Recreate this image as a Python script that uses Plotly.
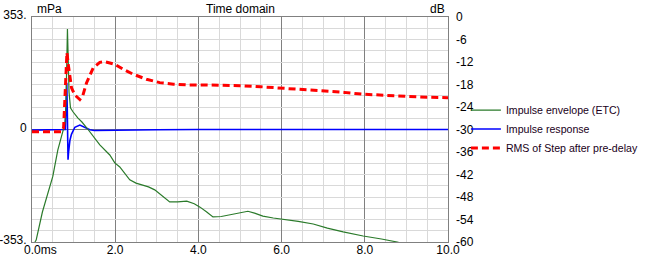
import plotly.graph_objects as go

# ---- data ----
t_etc = [0.07, 0.10, 0.25, 0.40, 0.50, 0.62, 0.74, 0.79, 0.815, 0.835, 0.852, 0.87, 0.89, 0.925,
         0.98, 1.10, 1.20, 1.32, 1.44, 1.63, 1.87, 1.99, 2.11, 2.35, 2.50, 2.66, 2.80, 2.95, 3.10,
         3.31, 3.50, 3.72, 3.90, 4.04, 4.20, 4.35, 4.55, 4.83, 5.00, 5.19, 5.35, 5.55, 5.80, 6.01,
         6.40, 6.76, 7.10, 7.48, 7.96, 8.40, 8.78, 9.00]
etc_db = [-60.0, -59.5, -52.0, -46.0, -42.5, -35.5, -30.6, -28.5, -24.0, -14.0, -3.2, -11.0, -20.0, -24.2,
          -25.2, -26.9, -28.0, -29.6, -31.4, -34.1, -36.8, -38.9, -40.0, -43.4, -44.3, -44.8, -45.3, -46.1, -47.5,
          -49.3, -49.3, -49.1, -49.8, -50.7, -52.0, -53.3, -53.2, -52.5, -52.2, -51.8, -52.3, -53.1, -53.6, -53.9,
          -54.5, -55.2, -56.3, -57.3, -58.4, -59.2, -60.0, -60.8]

t_ir = [0.0, 0.75, 0.80, 0.825, 0.835, 0.848, 0.858, 0.866, 0.88, 0.91, 0.948, 1.03, 1.15, 1.27,
        1.39, 1.50, 2.00, 3.00, 4.00, 10.0]
ir_mpa = [-2.0, -2.0, 0.0, 100.0, 147.0, 60.0, -60.0, -95.0, -70.0, -35.0, -15.0, 7.0, 14.0, 6.0,
          -1.0, -3.0, -3.0, -1.0, 0.0, 0.0]

t_rms = [0.0, 0.72, 0.76, 0.80, 0.84, 0.87, 0.95, 1.03, 1.15, 1.22, 1.31, 1.47, 1.63, 1.75,
         1.99, 2.20, 2.42, 2.75, 3.07, 3.40, 3.72, 4.10, 4.52, 5.00, 5.50, 6.01, 6.50, 7.00,
         7.50, 7.96, 8.50, 9.02, 9.50, 10.0]
rms_db = [-30.6, -30.6, -29.5, -20.0, -9.5, -12.5, -18.9, -20.8, -22.0, -21.0, -17.6, -13.6, -12.1, -11.9,
          -12.6, -14.0, -15.2, -16.6, -17.5, -17.9, -18.1, -18.1, -18.1, -18.3, -18.6, -19.0, -19.3, -19.6,
          -20.1, -20.6, -20.9, -21.2, -21.4, -21.5]

x_tickvals = [0, 2, 4, 6, 8, 10]
x_ticktext = ["\u00a0\u00a0\u00a0\u00a0\u00a00.0ms", "2.0", "4.0", "6.0", "8.0", "10.0"]
y1_tickvals = [-353, 0, 353]
y1_ticktext = ["-353.", "0", "353."]
y2_tickvals = [0, -6, -12, -18, -24, -30, -36, -42, -48, -54, -60]
y2_ticktext = [str(v) for v in y2_tickvals]

FONT = "Liberation Sans, Arial, sans-serif"
MAJOR = "#808080"
MINOR = "#d9d9d9"

fig = go.Figure()
fig.add_trace(go.Scatter(x=t_etc, y=etc_db, yaxis="y2", mode="lines",
                         name="Impulse envelope (ETC)",
                         line=dict(color="#2a7a2a", width=1.2)))
fig.add_trace(go.Scatter(x=t_ir, y=ir_mpa, yaxis="y", mode="lines",
                         name="Impulse response",
                         line=dict(color="#0000ff", width=1.6)))
fig.add_trace(go.Scatter(x=t_rms, y=rms_db, yaxis="y2", mode="lines",
                         name="RMS of Step after pre-delay",
                         line=dict(color="#ff0000", width=3, dash="7px,4px")))

fig.update_layout(
    width=645, height=257,
    margin=dict(l=32, r=197, t=17, b=15, autoexpand=False),
    paper_bgcolor="white", plot_bgcolor="white",
    font=dict(family=FONT, size=12, color="#000000"),
    showlegend=True,
    legend=dict(x=1.043, xanchor="left", y=0.502, yanchor="middle",
                bgcolor="rgba(0,0,0,0)", font=dict(size=10.6, color="#200020"),
                itemwidth=30, tracegroupgap=0),
    xaxis=dict(range=[0, 10], tickvals=x_tickvals, ticktext=x_ticktext,
               showgrid=True, gridcolor=MAJOR, gridwidth=1,
               minor=dict(dtick=0.5, tick0=0, showgrid=True, gridcolor=MINOR, gridwidth=1),
               showline=True, mirror=True, linecolor=MAJOR, linewidth=1,
               zeroline=False, ticks="", automargin=False, ticklabelstandoff=-3),
    yaxis=dict(range=[-353, 353], tickvals=y1_tickvals, ticktext=y1_ticktext,
               showgrid=False, zeroline=True, zerolinecolor=MAJOR, zerolinewidth=1,
               showline=True, mirror=True, linecolor=MAJOR, linewidth=1,
               ticks="", ticklabelstandoff=2, ticklabelshift=-2, automargin=False),
    yaxis2=dict(range=[-60, 0], overlaying="y", side="right",
                tickvals=y2_tickvals, ticktext=y2_ticktext,
                showgrid=True, gridcolor=MINOR, gridwidth=1,
                minor=dict(dtick=3, tick0=0, showgrid=True, gridcolor=MINOR, gridwidth=1),
                zeroline=False, showline=False, ticks="", ticklabelstandoff=7, automargin=False),
    annotations=[
        dict(text="mPa", xref="paper", yref="paper", x=0, y=1, xanchor="left", yanchor="bottom",
             xshift=3, yshift=-1, showarrow=False, font=dict(size=12)),
        dict(text="Time domain", xref="paper", yref="paper", x=0.5, y=1, xanchor="center",
             yanchor="bottom", yshift=-1, showarrow=False, font=dict(size=12)),
        dict(text="dB", xref="paper", yref="paper", x=1, y=1, xanchor="right", yanchor="bottom",
             xshift=-1, yshift=-1, showarrow=False, font=dict(size=12)),
    ],
)

fig.write_html("out.html")
